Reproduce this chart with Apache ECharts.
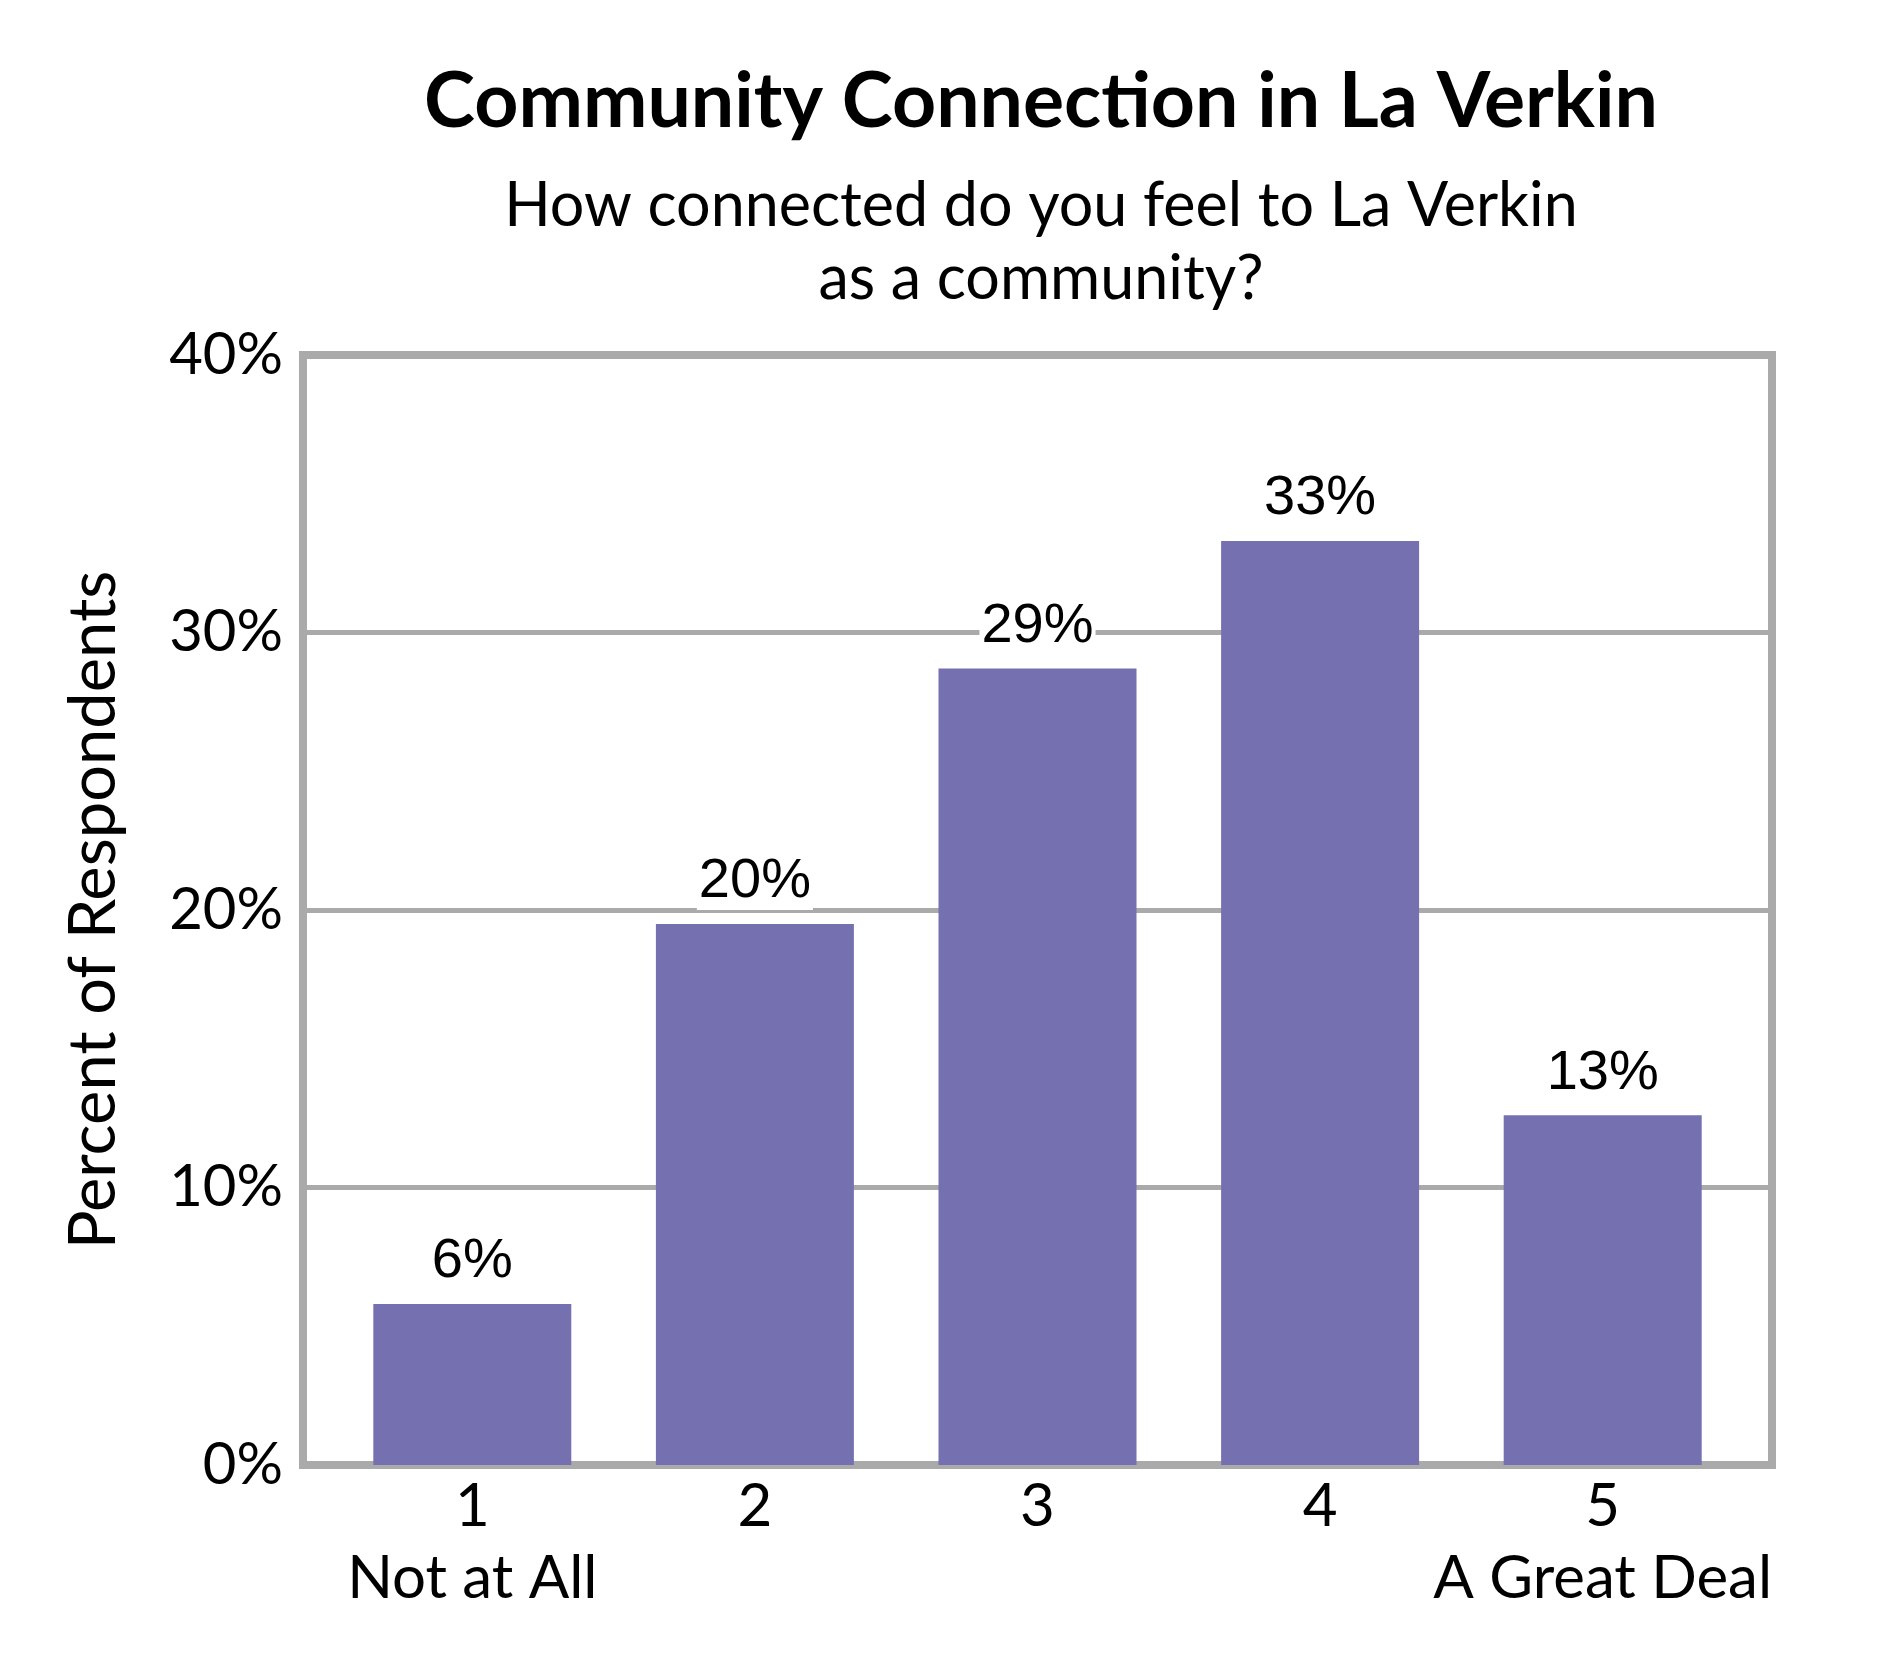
<!DOCTYPE html>
<html>
<head>
<meta charset="utf-8">
<script src="https://cdn.jsdelivr.net/npm/echarts@6/dist/echarts.min.js"></script>
<style>
html,body{margin:0;padding:0;background:#fff;}
#chart{width:1890px;height:1680px;}
</style>
</head>
<body>
<div id="chart"></div>
<script>
const titleText = 'Community Connection in La Verkin';
const subtitleText = 'How connected do you feel to La Verkin\nas a community?';
const categories = ['1\nNot at All', '2', '3', '4', '5\nA Great Deal'];
const values = [5.8, 19.5, 28.7, 33.3, 12.6];
const yTicks = [0, 10, 20, 30, 40];
const yAxisName = 'Percent of Respondents';

const chart = echarts.init(document.getElementById('chart'));
const calibriLike = 'Lato';
chart.setOption({
  backgroundColor: '#ffffff',
  animation: false,
  title: [
    {
      text: titleText,
      left: 1036, top: 59, textAlign: 'center',
      textStyle: {fontFamily: calibriLike, fontWeight: 'bold', fontSize: 77, lineHeight: 77, color: '#000'}
    },
    {
      text: subtitleText,
      left: 1036, top: 165, textAlign: 'center',
      textStyle: {fontFamily: calibriLike, fontWeight: 'normal', fontSize: 61, lineHeight: 73, color: '#000', align: 'center'}
    }
  ],
  grid: [
    {left: 303, top: 355, width: 1469, height: 1110, show: true, borderColor: '#aaaaaa', borderWidth: 8, backgroundColor: 'transparent', containLabel: false},
    {left: 331, top: 355, width: 1413, height: 1110, containLabel: false}
  ],
  xAxis: [
    {gridIndex: 0, type: 'value', min: 0, max: 1, show: false},
    {
      gridIndex: 1, type: 'category', data: categories,
      axisLine: {show: false}, axisTick: {show: false},
      axisLabel: {margin: 6, fontFamily: calibriLike, fontSize: 60, lineHeight: 72, color: '#000', interval: 0}
    }
  ],
  yAxis: [
    {
      gridIndex: 0, type: 'value', min: yTicks[0], max: yTicks[yTicks.length - 1], interval: 10,
      name: yAxisName, nameLocation: 'middle', nameGap: 176, nameRotate: 90,
      nameTextStyle: {fontFamily: calibriLike, fontSize: 65, color: '#000'},
      axisLine: {show: false}, axisTick: {show: false},
      axisLabel: {formatter: '{value}%', margin: 20, fontFamily: calibriLike, fontSize: 58, color: '#000'},
      splitLine: {show: true, lineStyle: {color: '#aaaaaa', width: 5}}
    },
    {gridIndex: 1, type: 'value', min: yTicks[0], max: yTicks[yTicks.length - 1], show: false, splitLine: {show: false}}
  ],
  series: [{
    type: 'bar',
    xAxisIndex: 1, yAxisIndex: 1,
    data: values,
    barWidth: 198,
    itemStyle: {color: '#7571b1'},
    label: {
      show: true, position: 'top', distance: 14,
      formatter: p => Math.round(p.value) + '%',
      fontFamily: 'Liberation Sans', fontSize: 56, color: '#000',
      backgroundColor: '#ffffff', padding: [0, 2, 0, 2]
    }
  }]
});
</script>
</body>
</html>
